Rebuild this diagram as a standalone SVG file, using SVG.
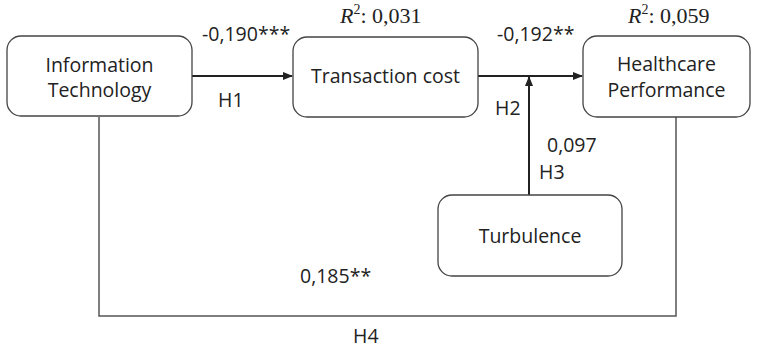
<svg xmlns="http://www.w3.org/2000/svg" width="759" height="349" viewBox="0 0 759 349">
<style>
.box{fill:#fff;stroke:#444;stroke-width:1.3}
.t{font-family:"Open Sans","Liberation Sans",sans-serif;font-size:19.5px;fill:#222}
.m{font-family:"Liberation Serif",serif;font-size:22px;fill:#222}
.c{fill:none;stroke:#222;stroke-width:2}
.c2{fill:none;stroke:#555;stroke-width:1.5}
</style>
<defs>
<marker id="ah" markerWidth="10" markerHeight="8" refX="9" refY="4" orient="auto" markerUnits="userSpaceOnUse">
<path d="M0,0 L10,4 L0,8 z" fill="#222"/>
</marker>
</defs>
<g id="connectors">
<line class="c" x1="192" y1="76" x2="292" y2="76" marker-end="url(#ah)"/>
<line class="c" x1="478" y1="76" x2="582" y2="76" marker-end="url(#ah)"/>
<line class="c" x1="529" y1="195" x2="529" y2="77" marker-end="url(#ah)"/>
<polyline class="c2" points="99,117 99,316 676,316 676,117"/>
</g>
<g id="it"><rect class="box" x="7" y="36" width="185" height="80" rx="14"/>
<text class="t" x="99.5" y="72" text-anchor="middle">Information</text>
<text class="t" x="99.5" y="97" text-anchor="middle">Technology</text></g>
<g id="tc"><rect class="box" x="293" y="37" width="185" height="80" rx="14"/>
<text class="t" x="385.5" y="83" text-anchor="middle">Transaction cost</text></g>
<g id="hp"><rect class="box" x="583" y="36" width="167" height="81" rx="14"/>
<text class="t" x="666.5" y="71" text-anchor="middle">Healthcare</text>
<text class="t" x="666.5" y="97" text-anchor="middle">Performance</text></g>
<g id="tu"><rect class="box" x="438" y="195" width="184" height="81" rx="14"/>
<text class="t" x="530" y="243" text-anchor="middle">Turbulence</text></g>
<g id="labels">
<text class="t" x="202" y="41">-0,190***</text>
<text class="t" x="218" y="107">H1</text>
<text class="m" x="340" y="23"><tspan font-style="italic">R</tspan><tspan font-size="14" dy="-9">2</tspan><tspan dy="9">: 0,031</tspan></text>
<text class="t" x="497" y="41">-0,192**</text>
<text class="m" x="628" y="23"><tspan font-style="italic">R</tspan><tspan font-size="14" dy="-9">2</tspan><tspan dy="9">: 0,059</tspan></text>
<text class="t" x="495" y="115">H2</text>
<text class="t" x="547" y="152">0,097</text>
<text class="t" x="539" y="179">H3</text>
<text class="t" x="300" y="283">0,185**</text>
<text class="t" x="353" y="343">H4</text>
</g>
</svg>
